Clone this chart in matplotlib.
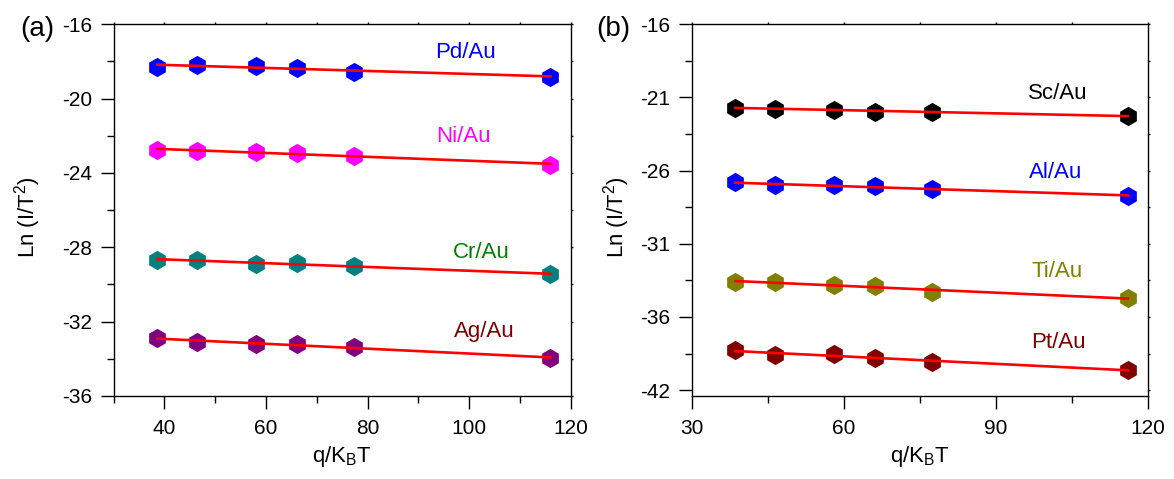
import numpy as np
import matplotlib
matplotlib.use('Agg')
import matplotlib.pyplot as plt
from matplotlib.ticker import MultipleLocator, FixedLocator

plt.rcParams['font.family'] = ['Liberation Sans', 'DejaVu Sans']
plt.rcParams['mathtext.fontset'] = 'custom'
plt.rcParams['mathtext.rm'] = 'Liberation Sans'
plt.rcParams['mathtext.it'] = 'Liberation Sans'
plt.rcParams['axes.unicode_minus'] = False

# x values (q/KBT), same for every series
x = [38.6, 46.4, 58.0, 66.2, 77.3, 116.0]

# panel (a)
names_a = ['Pd/Au', 'Ni/Au', 'Cr/Au', 'Ag/Au']
y_pd = [-18.28, -18.21, -18.24, -18.34, -18.55, -18.82]
y_ni = [-22.76, -22.82, -22.86, -22.91, -23.09, -23.55]
y_cr = [-28.67, -28.68, -28.91, -28.86, -28.99, -29.45]
y_ag = [-32.90, -33.08, -33.22, -33.19, -33.35, -33.97]
marker_a = ['#0000ff', '#ff00ff', '#008080', '#800080']
text_a = ['#0000ff', '#ff00ff', '#008000', '#800000']
label_xy_a = [(99.3, -17.5), (98.8, -22.05), (102.4, -28.3), (103.0, -32.55)]

# panel (b)
names_b = ['Sc/Au', 'Al/Au', 'Ti/Au', 'Pt/Au']
y_sc = [-21.69, -21.76, -21.85, -21.98, -21.98, -22.26]
y_al = [-26.80, -27.01, -27.01, -27.08, -27.26, -27.71]
y_ti = [-33.63, -33.58, -33.80, -33.90, -34.28, -34.72]
y_pt = [-38.29, -38.58, -38.51, -38.81, -39.06, -39.63]
marker_b = ['#000000', '#0000ff', '#808000', '#800000']
text_b = ['#000000', '#0000ff', '#808000', '#800000']
label_xy_b = [(102.1, -20.7), (101.8, -26.15), (102.0, -32.9), (102.4, -37.75)]

yticks_b = [-16, -21, -26, -31, -36, -41]
yticklabels_b = ['-16', '-21', '-26', '-31', '-36', '-42']

fig = plt.figure(figsize=(11.74, 4.79), dpi=100)
ax1 = fig.add_axes([0.0968, 0.1733, 0.3893, 0.776])
ax2 = fig.add_axes([0.5892, 0.1733, 0.3887, 0.776])


def draw(ax, ys, mcolors, tcolors, names, pos):
    for y, mc, tc, nm, (lx, ly) in zip(ys, mcolors, tcolors, names, pos):
        ax.plot(x, y, 'h', color=mc, ms=12.7, mec=mc, zorder=2)
        k, b = np.polyfit(x, y, 1)
        xf = np.array([x[0], x[-1]])
        ax.plot(xf, k * xf + b, color='#ff0000', lw=1.9, zorder=3)
        ax.text(lx, ly, nm, color=tc, fontsize=16, ha='center', va='center')


def style(ax):
    for s in ax.spines.values():
        s.set_linewidth(1.0)
    ax.tick_params(which='major', direction='out', length=9.7, width=1.0,
                   labelsize=15, pad=6)
    ax.tick_params(which='minor', direction='out', length=5.2, width=1.0)
    ax.tick_params(which='both', top=True, right=True)
    ax.tick_params(axis='x', which='major', pad=7)
    ax.set_xlabel('q/K$_\\mathregular{B}$T', fontsize=16)
    ax.set_ylabel('Ln (I/T$^\\mathregular{2}$)', fontsize=16)
    ax.xaxis.set_label_coords(0.5, -0.128)


draw(ax1, [y_pd, y_ni, y_cr, y_ag], marker_a, text_a, names_a, label_xy_a)
draw(ax2, [y_sc, y_al, y_ti, y_pt], marker_b, text_b, names_b, label_xy_b)

ax1.set_xlim(30, 120)
ax1.set_ylim(-36, -16)
ax1.set_xticks([40, 60, 80, 100, 120])
ax1.xaxis.set_minor_locator(MultipleLocator(10))
ax1.yaxis.set_major_locator(MultipleLocator(4))
ax1.yaxis.set_minor_locator(MultipleLocator(2))

ax2.set_xlim(30, 120)
ax2.set_ylim(-41.4, -16)
ax2.xaxis.set_major_locator(MultipleLocator(30))
ax2.xaxis.set_minor_locator(MultipleLocator(15))
ax2.set_yticks(yticks_b)
ax2.set_yticklabels(yticklabels_b)
ax2.yaxis.set_minor_locator(FixedLocator([-18.5, -23.5, -28.5, -33.5, -38.5]))

style(ax1)
style(ax2)
ax1.yaxis.set_label_coords(-0.155, 0.48)
ax2.yaxis.set_label_coords(-0.131, 0.48)

# tiny ticks on top/right spines
for ax in (ax1, ax2):
    for t in ax.xaxis.get_major_ticks() + ax.xaxis.get_minor_ticks():
        t.tick2line.set_markersize(1.5)
    for t in ax.yaxis.get_major_ticks() + ax.yaxis.get_minor_ticks():
        t.tick2line.set_markersize(1.5)

fig.text(0.017, 0.94, '(a)', fontsize=20, va='center', ha='left')
fig.text(0.508, 0.94, '(b)', fontsize=20, va='center', ha='left')

fig.savefig('out.png', dpi=100)
